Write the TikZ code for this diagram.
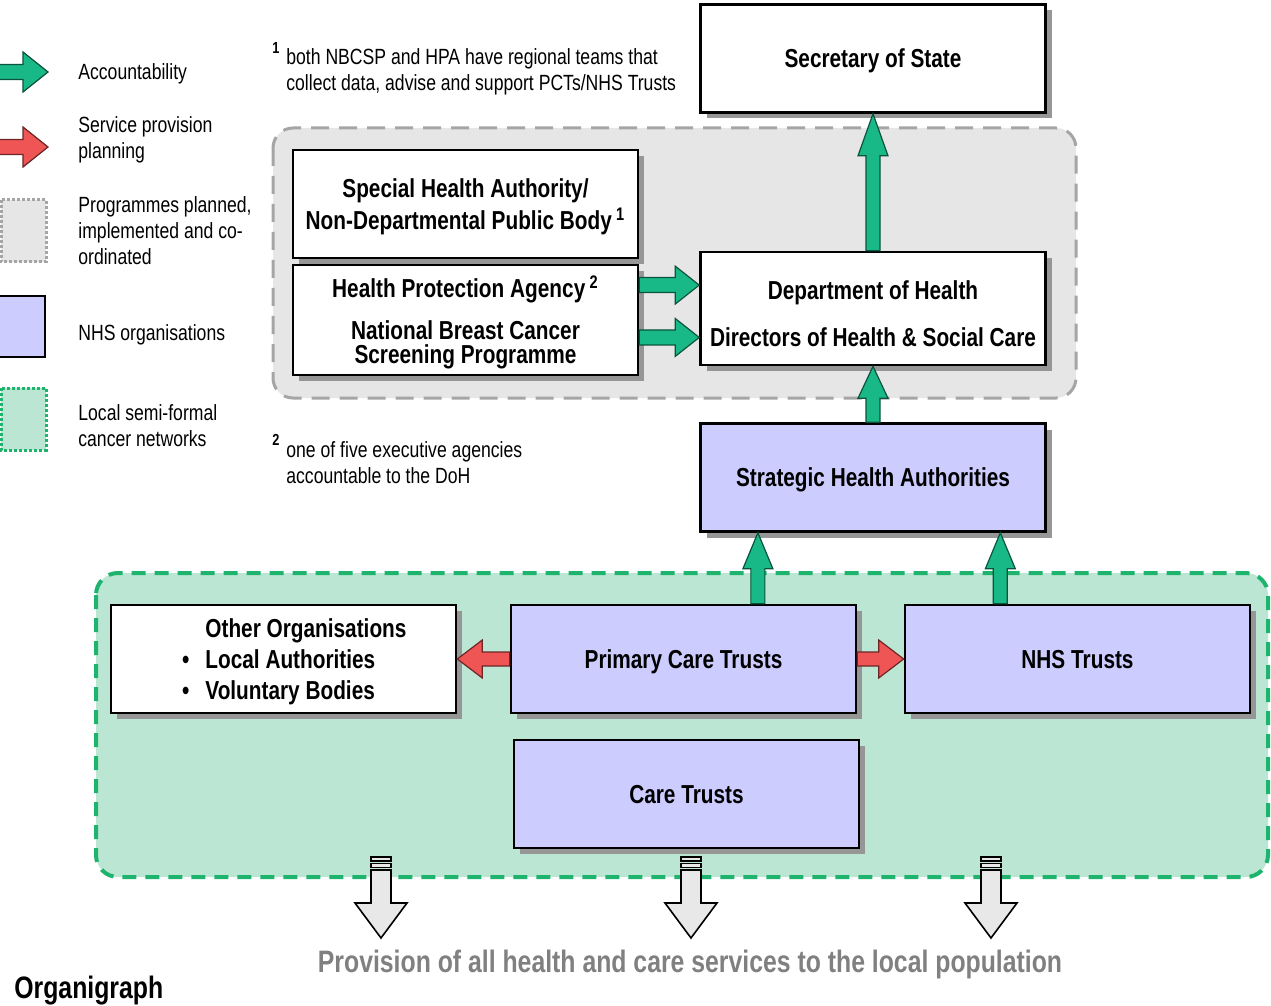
\documentclass[tikz,border=0pt]{standalone}
\usepackage{fontspec}
\setmainfont{Liberation Sans}[FakeStretch=0.8]
\usepackage{tikz}
\usetikzlibrary{calc}
\usetikzlibrary{shadows}

\definecolor{nhsblue}{RGB}{204,204,255}
\definecolor{accgreen}{RGB}{25,185,135}
\definecolor{planred}{RGB}{240,85,85}
\definecolor{progfill}{RGB}{230,230,230}
\definecolor{progline}{RGB}{165,165,165}
\definecolor{netfill}{RGB}{188,230,212}
\definecolor{netline}{RGB}{30,180,110}
\definecolor{shadowgray}{RGB}{150,150,150}
\definecolor{provgray}{RGB}{128,128,128}

% block arrow: style, shaft half width, head length, head half width, from, to
\newcommand{\blockarrow}[6]{%
  \coordinate (ba-s) at #5;
  \coordinate (ba-e) at #6;
  \coordinate (ba-h) at ($(ba-e)!#3!(ba-s)$);
  \draw[#1] ($(ba-s)!#2!90:(ba-e)$) -- ($(ba-h)!#2!-90:(ba-s)$) -- ($(ba-h)!#4!-90:(ba-s)$) -- (ba-e)
    -- ($(ba-h)!#4!90:(ba-s)$) -- ($(ba-h)!#2!90:(ba-s)$) -- ($(ba-s)!#2!-90:(ba-e)$) -- cycle;
}

\tikzset{
  orgbox/.style={draw=black, line width=1.3pt, fill=white, minimum width=172.5pt, minimum height=54pt,
    inner sep=2pt, align=center, text depth=0pt, font=\fontsize{13}{16}\selectfont\bfseries,
    drop shadow={shadow xshift=3pt, shadow yshift=-3pt, fill=shadowgray, opacity=1}},
  nhsbox/.style={orgbox, fill=nhsblue},
  accarrow/.style={fill=accgreen, draw=accgreen!45!black, line width=0.6pt},
  planarrow/.style={fill=planred, draw=planred!45!black, line width=0.6pt},
  outarrow/.style={fill=gray!18, draw=black, line width=0.8pt},
  legtext/.style={anchor=west, align=left, inner sep=0pt, font=\fontsize{11}{13}\selectfont},
  fnmark/.style={inner sep=0pt, font=\fontsize{8}{8}\selectfont\bfseries}
}

\begin{document}
\begin{tikzpicture}[x=0.5pt, y=-0.5pt]
\useasboundingbox (0,0) rectangle (1271,1006);

% regions
\draw[progline, fill=progfill, line width=1.5pt, dash pattern=on 9pt off 5pt, rounded corners=10pt]
  (273,128) rectangle (1076,398);
\draw[netline, fill=netfill, line width=2pt, dash pattern=on 7pt off 4.5pt, rounded corners=11pt]
  (96,573) rectangle (1268,877);

% legend
\coordinate (acc-s) at (-4,72);
\coordinate (acc-e) at (48,72);
\blockarrow{accarrow}{3.75pt}{12.5pt}{10pt}{(acc-s)}{(acc-e)}
\coordinate (plan-s) at (-4,147);
\coordinate (plan-e) at (48,147);
\blockarrow{planarrow}{3.75pt}{12.5pt}{10pt}{(plan-s)}{(plan-e)}
\draw[progline, fill=progfill, densely dotted, line width=1.5pt] (1,200) rectangle (46,262);
\draw[black, fill=nhsblue, line width=1.3pt] (-2,296) rectangle (45,357);
\draw[netline, fill=netfill, densely dotted, line width=1.5pt] (1,388) rectangle (46,450);

\node[legtext] (l-acc) at (78,74) {Accountability};
\node[legtext] (l-plan) at (78,140) {Service provision\\planning};
\node[legtext] (l-prog) at (78,231) {Programmes planned,\\implemented and co-\\ordinated};
\node[legtext] (l-nhs) at (78,335) {NHS organisations};
\node[legtext] (l-net) at (78,426) {Local semi-formal\\cancer networks};

% footnotes
\node[fnmark] (fn1m) at (276,48) {1};
\node[legtext] (fn1) at (286,71.5) {both NBCSP and HPA have regional teams that\\collect data, advise and support PCTs/NHS Trusts};
\node[fnmark] (fn2m) at (276,440) {2};
\node[legtext] (fn2) at (286,462.5) {one of five executive agencies\\accountable to the DoH};

% boxes
\node[orgbox] (sos) at (873,58.5) {Secretary of State};
\node[orgbox] (sha) at (465.5,204) {Special Health Authority/\\Non-Departmental Public Body\,\textsuperscript{1}};
\node[orgbox, minimum height=55pt, font=\fontsize{13}{12}\selectfont\bfseries] (hpa) at (465.5,320)
  {Health Protection Agency\,\textsuperscript{2}\\[8pt]National Breast Cancer\\Screening Programme};
\node[orgbox, minimum height=56.5pt] (doh) at (873,308.5)
  {\mbox{}\\[-1.5pt]Department of Health\\[7.5pt]Directors of Health \& Social Care};
\node[nhsbox] (strat) at (873,477.5) {Strategic Health Authorities};

\node[orgbox] (other) at (283.5,659) {};
\node[anchor=west, align=left, inner sep=0pt, font=\fontsize{13}{15.5}\selectfont\bfseries] (other-txt) at (205,662)
  {Other Organisations\\\llap{\textbullet\hspace{8pt}}Local Authorities\\\llap{\textbullet\hspace{8pt}}Voluntary Bodies};
\node[nhsbox] (pct) at (683.5,659) {Primary Care Trusts};
\node[nhsbox] (nhst) at (1077.5,659) {NHS Trusts};
\node[nhsbox] (care) at (686.5,794) {Care Trusts};

% accountability
\blockarrow{accarrow}{3.5pt}{21pt}{7.5pt}{(doh.north)}{(sos.south)}
\blockarrow{accarrow}{3.5pt}{16pt}{7.5pt}{(strat.north)}{(doh.south)}
\coordinate (hpa-a) at ($(hpa.north east)!0.19!(hpa.south east)$);
\coordinate (hpa-b) at ($(hpa.north east)!0.655!(hpa.south east)$);
\blockarrow{accarrow}{3.75pt}{12pt}{9.5pt}{(hpa-a)}{(hpa-a -| doh.west)}
\blockarrow{accarrow}{3.75pt}{12pt}{9.5pt}{(hpa-b)}{(hpa-b -| doh.west)}
\coordinate (pct-up) at ($(pct.north west)!0.714!(pct.north east)$);
\coordinate (nhst-up) at ($(nhst.north west)!0.278!(nhst.north east)$);
\blockarrow{accarrow}{3.5pt}{18pt}{7.5pt}{(pct-up)}{(pct-up |- strat.south)}
\blockarrow{accarrow}{3.5pt}{18pt}{7.5pt}{(nhst-up)}{(nhst-up |- strat.south)}

% service provision planning
\blockarrow{planarrow}{3.5pt}{12.5pt}{9.5pt}{(pct.west)}{(other.east)}
\blockarrow{planarrow}{3.5pt}{12.5pt}{9.5pt}{(pct.east)}{(nhst.west)}

% provision to population
\foreach \x [count=\i] in {381,691,991} {
  \coordinate (out\i) at (\x,870);
  \coordinate (pop\i) at (\x,938);
  \draw[fill=gray!18, line width=0.8pt] (\x-10,857) rectangle (\x+10,861);
  \draw[fill=gray!18, line width=0.8pt] (\x-10,863.5) rectangle (\x+10,867.5);
  \blockarrow{outarrow}{5pt}{17.5pt}{13pt}{(out\i)}{(pop\i)}
}

\node[inner sep=0pt, font=\fontsize{15.5}{18}\selectfont\bfseries, text=provgray] (prov) at (690,964)
  {Provision of all health and care services to the local population};
\node[anchor=west, inner sep=0pt, font=\fontsize{15.5}{18}\selectfont\bfseries] (title) at (14,991) {Organigraph};
\end{tikzpicture}
\end{document}
